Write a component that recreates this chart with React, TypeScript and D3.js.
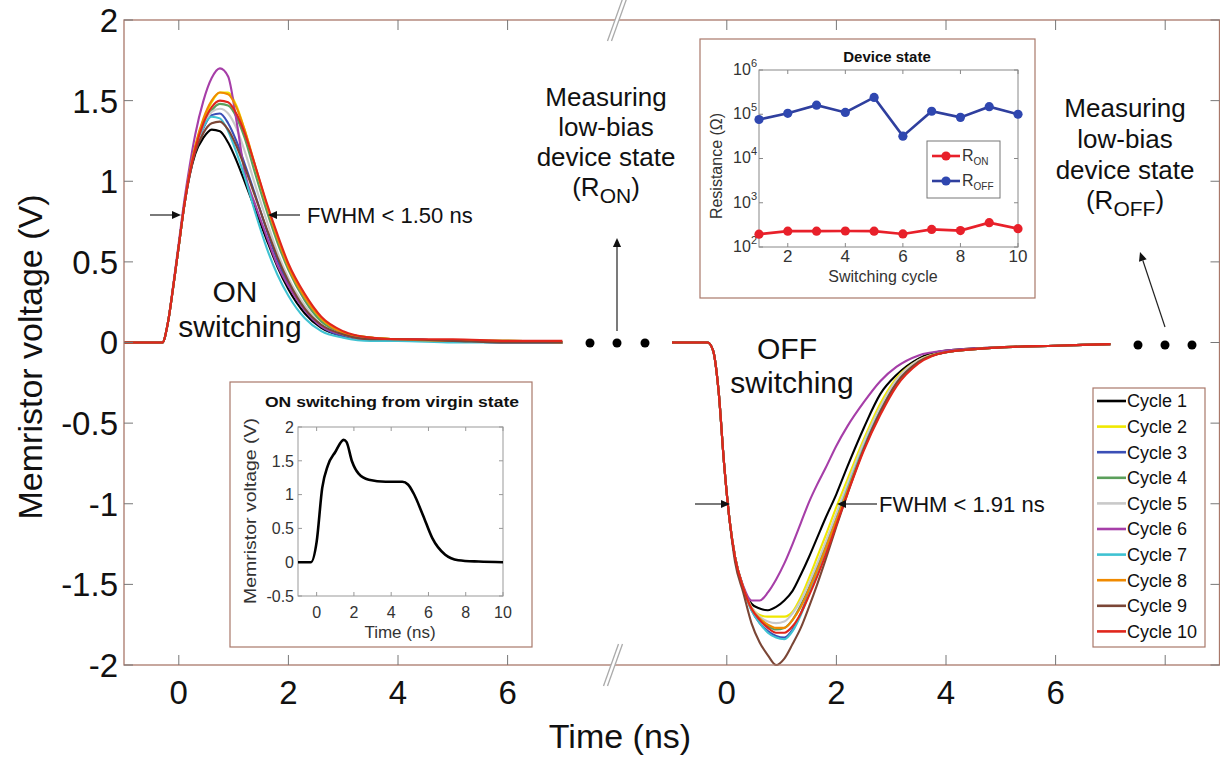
import React from 'react';
import * as d3 from 'd3';

const FONT = '"Liberation Sans", Arial, Helvetica, sans-serif';

// ---------- Main chart data ----------
const cycleNames = ['Cycle 1', 'Cycle 2', 'Cycle 3', 'Cycle 4', 'Cycle 5', 'Cycle 6', 'Cycle 7', 'Cycle 8', 'Cycle 9', 'Cycle 10'];
const cycleColors = ['#000000', '#f0e800', '#3b4fb6', '#5b9f5b', '#c9c9c9', '#a63ea8', '#3fc2d2', '#f08a00', '#7b4636', '#e0261c'];

// ON switching pulse (time in ns)
const onTime = [-1, -0.3, -0.2, -0.1, 0, 0.1, 0.2, 0.3, 0.45, 0.6, 0.75, 0.9, 1.05, 1.2, 1.4, 1.6, 1.8, 2.0, 2.3, 2.6, 3.0, 3.5, 4.0, 5.0, 6.0, 7.0];
const onSeries = [
  [0, 0, 0.12, 0.35, 0.6, 0.85, 1.04, 1.17, 1.27, 1.32, 1.31, 1.24, 1.13, 1.0, 0.82, 0.64, 0.47, 0.33, 0.18, 0.09, 0.04, 0.02, 0.02, 0.01, 0.0, 0.0],
  [0, 0, 0.12, 0.35, 0.6, 0.85, 1.06, 1.21, 1.38, 1.49, 1.55, 1.55, 1.47, 1.32, 1.08, 0.85, 0.64, 0.46, 0.27, 0.14, 0.06, 0.03, 0.02, 0.01, 0.01, 0.0],
  [0, 0, 0.12, 0.35, 0.6, 0.85, 1.05, 1.2, 1.33, 1.41, 1.42, 1.36, 1.25, 1.11, 0.91, 0.7, 0.51, 0.36, 0.2, 0.1, 0.04, 0.02, 0.02, 0.01, 0.0, 0.0],
  [0, 0, 0.12, 0.35, 0.6, 0.85, 1.05, 1.2, 1.35, 1.44, 1.48, 1.47, 1.4, 1.27, 1.04, 0.82, 0.62, 0.45, 0.26, 0.13, 0.06, 0.03, 0.02, 0.01, 0.01, 0.0],
  [0, 0, 0.12, 0.35, 0.6, 0.85, 1.05, 1.2, 1.34, 1.43, 1.45, 1.42, 1.33, 1.19, 0.97, 0.76, 0.56, 0.4, 0.23, 0.11, 0.05, 0.02, 0.02, 0.01, 0.0, 0.0],
  [0, 0, 0.12, 0.36, 0.62, 0.88, 1.1, 1.29, 1.5, 1.64, 1.7, 1.65, 1.38, 1.06, 0.85, 0.66, 0.48, 0.35, 0.2, 0.1, 0.05, 0.02, 0.02, 0.01, 0.0, 0.0],
  [0, 0, 0.12, 0.35, 0.6, 0.85, 1.05, 1.21, 1.34, 1.4, 1.39, 1.31, 1.18, 1.03, 0.8, 0.59, 0.42, 0.29, 0.15, 0.07, 0.03, 0.01, 0.01, 0.0, 0.0, 0.0],
  [0, 0, 0.12, 0.35, 0.6, 0.85, 1.06, 1.22, 1.39, 1.5, 1.55, 1.54, 1.46, 1.32, 1.09, 0.86, 0.65, 0.47, 0.28, 0.15, 0.06, 0.03, 0.02, 0.01, 0.01, 0.0],
  [0, 0, 0.12, 0.35, 0.6, 0.85, 1.04, 1.18, 1.3, 1.36, 1.37, 1.32, 1.22, 1.09, 0.9, 0.71, 0.53, 0.38, 0.21, 0.11, 0.05, 0.02, 0.02, 0.01, 0.0, 0.0],
  [0, 0, 0.12, 0.35, 0.6, 0.85, 1.05, 1.2, 1.36, 1.46, 1.5, 1.49, 1.42, 1.3, 1.09, 0.87, 0.67, 0.49, 0.3, 0.16, 0.07, 0.03, 0.02, 0.02, 0.01, 0.01],
];

// OFF switching pulse (time in ns, relative to the second time origin)
const offTime = [-1, -0.35, -0.25, -0.15, -0.05, 0.05, 0.15, 0.3, 0.45, 0.6, 0.75, 0.9, 1.05, 1.2, 1.35, 1.5, 1.65, 1.8, 2.0, 2.2, 2.5, 2.8, 3.1, 3.5, 4.0, 5.0, 6.0, 7.0];
const offSeries = [
  [0, 0, -0.05, -0.3, -0.75, -1.1, -1.33, -1.52, -1.62, -1.65, -1.66, -1.64, -1.6, -1.54, -1.44, -1.33, -1.21, -1.09, -0.94, -0.77, -0.53, -0.32, -0.2, -0.1, -0.05, -0.03, -0.02, -0.01],
  [0, 0, -0.05, -0.3, -0.75, -1.1, -1.33, -1.52, -1.64, -1.69, -1.7, -1.7, -1.7, -1.67, -1.58, -1.46, -1.33, -1.2, -1.02, -0.85, -0.6, -0.38, -0.22, -0.11, -0.06, -0.03, -0.02, -0.01],
  [0, 0, -0.05, -0.3, -0.75, -1.1, -1.33, -1.52, -1.66, -1.74, -1.79, -1.82, -1.83, -1.78, -1.68, -1.55, -1.41, -1.28, -1.09, -0.9, -0.64, -0.42, -0.25, -0.12, -0.06, -0.03, -0.02, -0.01],
  [0, 0, -0.05, -0.3, -0.75, -1.1, -1.33, -1.52, -1.65, -1.72, -1.76, -1.78, -1.77, -1.72, -1.63, -1.52, -1.39, -1.26, -1.08, -0.9, -0.64, -0.42, -0.25, -0.12, -0.06, -0.03, -0.02, -0.01],
  [0, 0, -0.05, -0.3, -0.75, -1.1, -1.33, -1.52, -1.64, -1.7, -1.73, -1.74, -1.73, -1.68, -1.6, -1.49, -1.37, -1.24, -1.06, -0.88, -0.62, -0.4, -0.23, -0.11, -0.06, -0.03, -0.02, -0.01],
  [0, 0, -0.05, -0.3, -0.75, -1.1, -1.33, -1.51, -1.6, -1.6, -1.55, -1.47, -1.37, -1.25, -1.12, -0.99, -0.88, -0.78, -0.64, -0.52, -0.37, -0.24, -0.15, -0.08, -0.05, -0.03, -0.02, -0.01],
  [0, 0, -0.05, -0.3, -0.75, -1.1, -1.33, -1.52, -1.66, -1.74, -1.8, -1.83, -1.84, -1.79, -1.69, -1.56, -1.42, -1.29, -1.1, -0.91, -0.65, -0.43, -0.26, -0.12, -0.06, -0.03, -0.02, -0.01],
  [0, 0, -0.05, -0.3, -0.75, -1.1, -1.33, -1.52, -1.65, -1.71, -1.75, -1.77, -1.77, -1.72, -1.64, -1.53, -1.41, -1.28, -1.1, -0.92, -0.66, -0.44, -0.26, -0.12, -0.06, -0.03, -0.02, -0.01],
  [0, 0, -0.05, -0.3, -0.75, -1.1, -1.36, -1.55, -1.74, -1.86, -1.94, -2.0, -1.96, -1.87, -1.77, -1.64, -1.5, -1.35, -1.14, -0.94, -0.66, -0.43, -0.25, -0.12, -0.06, -0.03, -0.02, -0.01],
  [0, 0, -0.05, -0.3, -0.75, -1.1, -1.33, -1.52, -1.65, -1.72, -1.77, -1.8, -1.8, -1.76, -1.68, -1.57, -1.45, -1.32, -1.13, -0.94, -0.67, -0.45, -0.27, -0.13, -0.06, -0.03, -0.02, -0.01],
];

const mainYTicks = [-2, -1.5, -1, -0.5, 0, 0.5, 1, 1.5, 2];
const onXTicks = [0, 2, 4, 6];
const offXTicks = [0, 2, 4, 6];
const offXTickMarksOnly = [8];
const OFF_SHIFT = 10;

// ---------- Inset: ON switching from virgin state ----------
const virginTime = [-1, -0.3, 0, 0.3, 0.6, 1.0, 1.45, 1.6, 1.9, 2.25, 2.8, 3.7, 4.6, 4.9, 5.2, 5.7, 6.2, 6.9, 7.6, 8.7, 10];
const virginVoltage = [0, 0, 0.3, 1.1, 1.43, 1.63, 1.81, 1.78, 1.49, 1.31, 1.22, 1.19, 1.19, 1.15, 1.02, 0.7, 0.36, 0.11, 0.03, 0.01, 0];
const virginYTicks = [-0.5, 0, 0.5, 1, 1.5, 2];
const virginXTicks = [0, 2, 4, 6, 8, 10];

// ---------- Inset: Device state ----------
const switchingCycle = [1, 2, 3, 4, 5, 6, 7, 8, 9, 10];
const rOn = [195, 228, 228, 230, 228, 197, 250, 235, 355, 260];
const rOff = [76000, 105000, 160000, 110000, 240000, 32000, 117000, 85000, 148000, 100000];
const stateYExponents = [2, 3, 4, 5, 6];
const stateXTicks = [2, 4, 6, 8, 10];

const FRAME = '#a9786a';
const TICK = '#777';

function Arrow({ x1, y1, x2, y2, w = 1.2, head = 9 }: { x1: number; y1: number; x2: number; y2: number; w?: number; head?: number }) {
  const a = Math.atan2(y2 - y1, x2 - x1);
  const hw = head * 0.45;
  const bx = x2 - head * Math.cos(a);
  const by = y2 - head * Math.sin(a);
  const p = [
    [x2, y2],
    [bx + hw * Math.sin(a), by - hw * Math.cos(a)],
    [bx - hw * Math.sin(a), by + hw * Math.cos(a)],
  ];
  return (
    <g>
      <line x1={x1} y1={y1} x2={bx} y2={by} stroke="#222" strokeWidth={w} />
      <polygon points={p.map((q) => q.join(',')).join(' ')} fill="#111" />
    </g>
  );
}

function BreakMark({ cx, cy }: { cx: number; cy: number }) {
  const dx = 7.5, dy = 21, gap = 4;
  const poly = [
    [cx - dx - gap / 2, cy + dy],
    [cx + dx - gap / 2, cy - dy],
    [cx + dx + gap / 2, cy - dy],
    [cx - dx + gap / 2, cy + dy],
  ];
  return (
    <g>
      <polygon points={poly.map((q) => q.join(',')).join(' ')} fill="#fff" />
      <line x1={cx - dx - gap / 2} y1={cy + dy} x2={cx + dx - gap / 2} y2={cy - dy} stroke="#aaa" strokeWidth={1.3} />
      <line x1={cx - dx + gap / 2} y1={cy + dy} x2={cx + dx + gap / 2} y2={cy - dy} stroke="#aaa" strokeWidth={1.3} />
    </g>
  );
}

export default function App() {
  // main scales
  const x = d3.scaleLinear().domain([-1, 19]).range([124, 1220]);
  const y = d3.scaleLinear().domain([-2, 2]).range([665, 20]);
  const left = x(-1), right = 1219.5, top = y(2), bottom = y(-2);

  const line = d3
    .line<[number, number]>()
    .x((d) => x(d[0]))
    .y((d) => y(d[1]))
    .curve(d3.curveMonotoneX);

  // virgin inset scales
  const vx = d3.scaleLinear().domain([-1, 10]).range([298, 503]);
  const vy = d3.scaleLinear().domain([-0.5, 2]).range([596, 427]);
  const vLine = d3
    .line<number>()
    .x((_, i) => vx(virginTime[i]))
    .y((d) => vy(d))
    .curve(d3.curveMonotoneX);

  // device state scales
  const sx = d3.scaleLinear().domain([1, 10]).range([759, 1018]);
  const sy = d3.scaleLog().domain([1e2, 1e6]).range([247, 70]);
  const sLine = d3
    .line<number>()
    .x((_, i) => sx(switchingCycle[i]))
    .y((d) => sy(d));

  const legendX = 1093, legendY = 388, legendRow = 25.6;

  return (
    <svg width={1220} height={761} style={{ position: 'absolute', left: 0, top: 0, background: '#fff' }} fontFamily={FONT}>
      <rect x={0} y={0} width={1220} height={761} fill="#fff" />

      {/* ON curves */}
      <g fill="none" strokeWidth={2.1} strokeLinejoin="round">
        {onSeries.map((vals, i) => (
          <path key={'on' + i} d={line(vals.map((v, k) => [onTime[k], v] as [number, number])) || ''} stroke={cycleColors[i]} />
        ))}
      </g>
      {/* OFF curves */}
      <g fill="none" strokeWidth={2.1} strokeLinejoin="round">
        {offSeries.map((vals, i) => (
          <path key={'off' + i} d={line(vals.map((v, k) => [offTime[k] + OFF_SHIFT, v] as [number, number])) || ''} stroke={cycleColors[i]} />
        ))}
      </g>

      {/* frame */}
      <rect x={left} y={top} width={right - left} height={bottom - top} fill="none" stroke={FRAME} strokeWidth={1.3} />

      {/* y ticks */}
      {mainYTicks.map((t) => (
        <g key={'yt' + t}>
          <line x1={left} x2={left + 9} y1={y(t)} y2={y(t)} stroke={TICK} strokeWidth={1} />
          <line x1={right - 9} x2={right} y1={y(t)} y2={y(t)} stroke={TICK} strokeWidth={1} />
          <text x={118} y={y(t)} dy="0.36em" textAnchor="end" fontSize={33} fill="#111">
            {String(t)}
          </text>
        </g>
      ))}
      {/* x ticks */}
      {[...onXTicks.map((t) => ({ v: t, lab: String(t) })), ...offXTicks.map((t) => ({ v: t + OFF_SHIFT, lab: String(t) })), ...offXTickMarksOnly.map((t) => ({ v: t + OFF_SHIFT, lab: '' }))].map((t) => (
        <g key={'xt' + t.v}>
          <line x1={x(t.v)} x2={x(t.v)} y1={bottom} y2={bottom - 10} stroke={TICK} strokeWidth={1} />
          <line x1={x(t.v)} x2={x(t.v)} y1={top} y2={top + 10} stroke={TICK} strokeWidth={1} />
          {t.lab && (
            <text x={x(t.v)} y={704} textAnchor="middle" fontSize={33} fill="#111">
              {t.lab}
            </text>
          )}
        </g>
      ))}

      <BreakMark cx={617} cy={top} />
      <BreakMark cx={613} cy={bottom} />

      {/* axis titles */}
      <text x={620} y={748} textAnchor="middle" fontSize={34} fill="#111">
        Time (ns)
      </text>
      <text transform={`translate(42,357) rotate(-90)`} textAnchor="middle" fontSize={34} fill="#111">
        Memristor voltage (V)
      </text>

      {/* dots */}
      {[590, 617, 645].map((cx) => (
        <circle key={'d1' + cx} cx={cx} cy={343} r={4.5} fill="#000" />
      ))}
      {[1138, 1165, 1192].map((cx) => (
        <circle key={'d2' + cx} cx={cx} cy={345} r={4.5} fill="#000" />
      ))}

      {/* Measuring annotations */}
      <g fontSize={26} textAnchor="middle" fill="#111">
        <text x={606} y={106}>Measuring</text>
        <text x={606} y={136}>low-bias</text>
        <text x={606} y={166}>device state</text>
        <text x={606} y={196}>
          (R<tspan dy={7} fontSize={21}>ON</tspan>
          <tspan dy={-7}>)</tspan>
        </text>
      </g>
      <Arrow x1={617} y1={331} x2={617} y2={238} />
      <g fontSize={26} textAnchor="middle" fill="#111">
        <text x={1125} y={117}>Measuring</text>
        <text x={1125} y={148}>low-bias</text>
        <text x={1125} y={179}>device state</text>
        <text x={1125} y={209}>
          (R<tspan dy={7} fontSize={21}>OFF</tspan>
          <tspan dy={-7}>)</tspan>
        </text>
      </g>
      <Arrow x1={1165} y1={327} x2={1140} y2={252} />

      {/* ON / OFF labels and FWHM */}
      <g fontSize={30} textAnchor="middle" fill="#111">
        <text x={235} y={302}>ON</text>
        <text x={240} y={337}>switching</text>
        <text x={787} y={359}>OFF</text>
        <text x={792} y={393}>switching</text>
      </g>
      <Arrow x1={150} y1={215} x2={181} y2={215} />
      <Arrow x1={300} y1={215} x2={268} y2={215} />
      <text x={307} y={223} fontSize={22} fill="#111">FWHM &lt; 1.50 ns</text>
      <Arrow x1={695} y1={504} x2={730} y2={504} />
      <Arrow x1={877} y1={504} x2={837} y2={504} />
      <text x={879} y={512} fontSize={22} fill="#111">FWHM &lt; 1.91 ns</text>

      {/* legend */}
      <rect x={legendX} y={legendY} width={112} height={259} fill="#fff" stroke={FRAME} strokeWidth={1.2} />
      {cycleNames.map((name, i) => {
        const cy = legendY + 13 + i * legendRow;
        return (
          <g key={name}>
            <line x1={legendX + 4} x2={legendX + 33} y1={cy} y2={cy} stroke={cycleColors[i]} strokeWidth={2.6} />
            <text x={legendX + 34} y={cy} dy="0.35em" fontSize={18} fill="#111">
              {name}
            </text>
          </g>
        );
      })}

      {/* Inset: ON switching from virgin state */}
      <g>
        <rect x={230} y={382} width={302} height={265} fill="#fff" stroke={FRAME} strokeWidth={1.2} />
        <text x={392} y={407} textAnchor="middle" fontSize={15} fontWeight="bold" fill="#111" textLength={254} lengthAdjust="spacingAndGlyphs">
          ON switching from virgin state
        </text>
        <rect x={vx(-1)} y={vy(2)} width={vx(10) - vx(-1)} height={vy(-0.5) - vy(2)} fill="#fff" stroke="#999" strokeWidth={1} />
        {virginYTicks.map((t) => (
          <g key={'vy' + t}>
            <line x1={vx(-1)} x2={vx(-1) + 4} y1={vy(t)} y2={vy(t)} stroke="#999" />
            <line x1={vx(10) - 4} x2={vx(10)} y1={vy(t)} y2={vy(t)} stroke="#999" />
            <text x={294} y={vy(t)} dy="0.36em" textAnchor="end" fontSize={16} fill="#333">
              {String(t)}
            </text>
          </g>
        ))}
        {virginXTicks.map((t) => (
          <g key={'vx' + t}>
            <line x1={vx(t)} x2={vx(t)} y1={vy(-0.5)} y2={vy(-0.5) - 4} stroke="#999" />
            <line x1={vx(t)} x2={vx(t)} y1={vy(2)} y2={vy(2) + 4} stroke="#999" />
            <text x={vx(t)} y={618} textAnchor="middle" fontSize={16} fill="#333">
              {String(t)}
            </text>
          </g>
        ))}
        <text x={400} y={638} textAnchor="middle" fontSize={17} fill="#333">
          Time (ns)
        </text>
        <text transform="translate(256,511) rotate(-90)" textAnchor="middle" fontSize={17} fill="#333" textLength={186} lengthAdjust="spacingAndGlyphs">
          Memristor voltage (V)
        </text>
        <path d={vLine(virginVoltage) || ''} fill="none" stroke="#000" strokeWidth={2.6} strokeLinejoin="round" />
      </g>

      {/* Inset: Device state */}
      <g>
        <rect x={700} y={39} width={335} height={259} fill="#fff" stroke={FRAME} strokeWidth={1.2} />
        <text x={887} y={62} textAnchor="middle" fontSize={15} fontWeight="bold" fill="#111">
          Device state
        </text>
        <rect x={sx(1)} y={sy(1e6)} width={sx(10) - sx(1)} height={sy(1e2) - sy(1e6)} fill="#fff" stroke="#888" strokeWidth={1} />
        {stateYExponents.map((e) => (
          <g key={'sy' + e}>
            <line x1={sx(1)} x2={sx(1) + 4} y1={sy(Math.pow(10, e))} y2={sy(Math.pow(10, e))} stroke="#888" />
            <line x1={sx(10) - 4} x2={sx(10)} y1={sy(Math.pow(10, e))} y2={sy(Math.pow(10, e))} stroke="#888" />
            <text x={757} y={sy(Math.pow(10, e))} dy="0.3em" textAnchor="end" fontSize={16} fill="#333">
              10<tspan dy={-8} fontSize={11}>{e}</tspan>
            </text>
          </g>
        ))}
        {stateXTicks.map((t) => (
          <g key={'sx' + t}>
            <line x1={sx(t)} x2={sx(t)} y1={sy(1e2)} y2={sy(1e2) - 4} stroke="#888" />
            <line x1={sx(t)} x2={sx(t)} y1={sy(1e6)} y2={sy(1e6) + 4} stroke="#888" />
            <text x={sx(t)} y={262} textAnchor="middle" fontSize={17} fill="#333">
              {String(t)}
            </text>
          </g>
        ))}
        <text x={883} y={282} textAnchor="middle" fontSize={16} fill="#333">
          Switching cycle
        </text>
        <text transform="translate(722,166) rotate(-90)" textAnchor="middle" fontSize={16} fill="#333">
          Resistance (Ω)
        </text>
        <path d={sLine(rOff) || ''} fill="none" stroke="#2f3f9e" strokeWidth={2.6} />
        {rOff.map((v, i) => (
          <circle key={'ro' + i} cx={sx(switchingCycle[i])} cy={sy(v)} r={4.6} fill="#2f47b0" />
        ))}
        <path d={sLine(rOn) || ''} fill="none" stroke="#e8202a" strokeWidth={2.6} />
        {rOn.map((v, i) => (
          <circle key={'rn' + i} cx={sx(switchingCycle[i])} cy={sy(v)} r={4.6} fill="#e8202a" />
        ))}
        {/* inner legend */}
        <rect x={927} y={141} width={73} height={57} fill="#fff" stroke="#777" strokeWidth={1} />
        <line x1={932} x2={960} y1={156} y2={156} stroke="#e8202a" strokeWidth={2.6} />
        <circle cx={946} cy={156} r={4.6} fill="#e8202a" />
        <text x={962} y={161} fontSize={16} fill="#333">
          R<tspan dy={4} fontSize={10}>ON</tspan>
        </text>
        <line x1={932} x2={960} y1={181} y2={181} stroke="#2f3f9e" strokeWidth={2.6} />
        <circle cx={946} cy={181} r={4.6} fill="#2f47b0" />
        <text x={962} y={186} fontSize={16} fill="#333">
          R<tspan dy={4} fontSize={10}>OFF</tspan>
        </text>
      </g>
    </svg>
  );
}
